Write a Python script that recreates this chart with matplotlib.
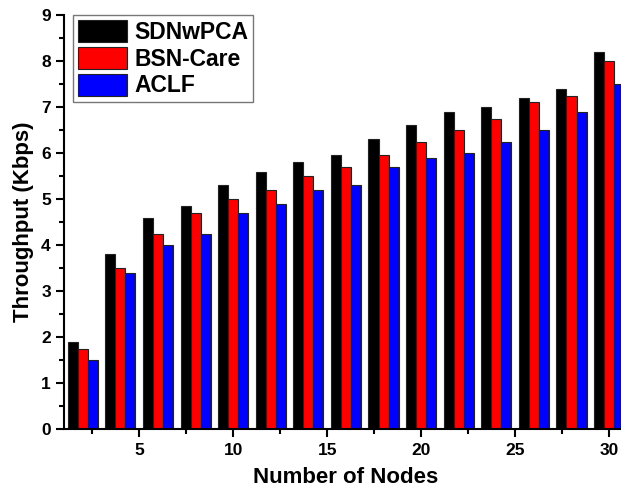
import matplotlib
matplotlib.use("Agg")
import matplotlib.pyplot as plt
import numpy as np
from matplotlib.ticker import MultipleLocator

plt.rcParams["font.family"] = ["Liberation Sans", "DejaVu Sans"]
plt.rcParams["font.weight"] = "bold"

nodes = [2, 4, 6, 8, 10, 12, 14, 16, 18, 20, 22, 24, 26, 28, 30]
sdnwpca = [1.9, 3.8, 4.6, 4.85, 5.3, 5.6, 5.8, 5.95, 6.3, 6.6, 6.9, 7.0, 7.2, 7.4, 8.2]
bsn_care = [1.75, 3.5, 4.25, 4.7, 5.0, 5.2, 5.5, 5.7, 5.95, 6.25, 6.5, 6.75, 7.12, 7.25, 8.0]
aclf = [1.5, 3.4, 4.0, 4.25, 4.7, 4.9, 5.2, 5.3, 5.7, 5.9, 6.0, 6.25, 6.5, 6.9, 7.5]

series = [
    ("SDNwPCA", sdnwpca, "#000000"),
    ("BSN-Care", bsn_care, "#ff0000"),
    ("ACLF", aclf, "#0000ff"),
]

fig = plt.figure(figsize=(6.21, 4.95), dpi=100)
ax = fig.add_axes([0.1031, 0.1327, 0.908, 0.837])

x = np.array(nodes, dtype=float)
w = 0.535
for i, (name, vals, color) in enumerate(series):
    ax.bar(x + (i - 1) * w, vals, width=w, color=color, edgecolor="#222222",
           linewidth=0.8, label=name)

ax.set_xlim(1, 31)
ax.set_ylim(0, 9)
ax.xaxis.set_major_locator(MultipleLocator(5))
ax.xaxis.set_minor_locator(MultipleLocator(2.5))
ax.yaxis.set_major_locator(MultipleLocator(1))
ax.yaxis.set_minor_locator(MultipleLocator(0.5))
ax.set_xticks([5, 10, 15, 20, 25, 30])

for s in ["top", "right"]:
    ax.spines[s].set_visible(False)
for s in ["left", "bottom"]:
    ax.spines[s].set_linewidth(1.5)

ax.tick_params(axis="both", which="major", direction="out", length=6, width=1.5,
               labelsize=12.5)
ax.tick_params(axis="both", which="minor", direction="out", length=3.5, width=1.5)
for lab in ax.get_xticklabels() + ax.get_yticklabels():
    lab.set_fontweight("bold")

ax.set_xlabel("Number of Nodes", fontsize=16, fontweight="bold", labelpad=7)
ax.set_ylabel("Throughput (Kbps)", fontsize=16, fontweight="bold", labelpad=5)

leg = ax.legend(loc="upper left", bbox_to_anchor=(0.016, 1.0),
                frameon=True, fancybox=False, edgecolor="#555555",
                handlelength=2.14, handleheight=1.1, handletextpad=0.3,
                labelspacing=0.13, borderpad=0.22, borderaxespad=0.0,
                prop={"weight": "bold", "size": 16.5})
leg.get_frame().set_linewidth(1.0)

fig.savefig("out.png", dpi=100)
